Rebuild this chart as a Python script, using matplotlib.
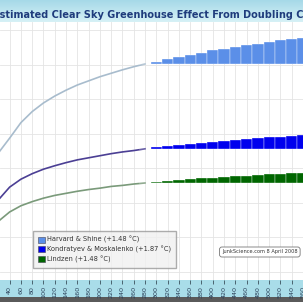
import numpy as np
import matplotlib
matplotlib.use("Agg")
import matplotlib.pyplot as plt
from matplotlib.patches import Rectangle, Patch

# CO2 concentration (ppm) categories
ppm = [20, 40, 60, 80, 100, 120, 140, 160, 180, 200, 220, 240, 260, 280,
       300, 320, 340, 360, 380, 400, 420, 440, 460, 480, 500, 520, 540, 560]

# warming curves (arbitrary deg C scale)
top_vals = [3.45, 3.88, 4.33, 4.65, 4.90, 5.10, 5.27, 5.42, 5.54, 5.66, 5.76, 5.86, 5.95, 6.03,
            6.10, 6.18, 6.24, 6.30, 6.36, 6.42, 6.47, 6.53, 6.58, 6.62, 6.67, 6.71, 6.75, 6.79]
mid_vals = [2.09, 2.46, 2.69, 2.85, 2.98, 3.08, 3.17, 3.25, 3.31, 3.37, 3.43, 3.48, 3.52, 3.57,
            3.61, 3.64, 3.68, 3.71, 3.74, 3.77, 3.79, 3.82, 3.85, 3.87, 3.90, 3.92, 3.94, 3.96]
low_vals = [1.47, 1.74, 1.92, 2.04, 2.14, 2.22, 2.28, 2.34, 2.39, 2.43, 2.48, 2.51, 2.55, 2.58,
            2.61, 2.64, 2.66, 2.69, 2.71, 2.73, 2.75, 2.77, 2.79, 2.81, 2.83, 2.85, 2.86, 2.88]

labels = ["Harvard & Shine (+1.48 °C)",
          "Kondratyev & Moskalenko (+1.87 °C)",
          "Lindzen (+1.48 °C)"]
title = "Estimated Clear Sky Greenhouse Effect From Doubling CO2"
note = "JunkScience.com 8 April 2008"

bar_cols = ["#5b8fe8", "#0000ee", "#006600"]
line_cols = ["#a8bccd", "#4b3f94", "#7a9a7a"]

W, H = 303, 302
fig = plt.figure(figsize=(W / 100, H / 100), dpi=100)
fig.patch.set_facecolor("white")

# title band with a soft gradient
tax = fig.add_axes([0, 1 - 22 / H, 1, 22 / H])
grad = np.linspace(0, 1, 50)[:, None]
cmap = matplotlib.colors.LinearSegmentedColormap.from_list("band", ["#a6d9e8", "#d6f1f6"])
tax.imshow(grad, aspect="auto", cmap=cmap, extent=[0, 1, 0, 1])
tax.set_axis_off()
fig.text(-0.022, 1 - 15 / H, title, fontsize=7.0, fontweight="bold",
         color="#1f3c7c", ha="left", va="center")

# tick label band + dark bottom strip (behind the axes)
fig.patches.append(Rectangle((0, 5 / H), 1, 17 / H, transform=fig.transFigure,
                             facecolor="#a9dde9", edgecolor="none", zorder=-5))
fig.patches.append(Rectangle((0, 0), 1, 5 / H, transform=fig.transFigure,
                             facecolor="#5a5a5a", edgecolor="none", zorder=-5))

ax = fig.add_axes([0, 22 / H, 1, 258 / H])
x = np.arange(len(ppm))
ax.set_xlim(0.145, 26.04)
ax.set_ylim(-0.232, 7.246)
ax.set_facecolor("white")
for s in ax.spines.values():
    s.set_visible(False)

# the 20 ppm tick sits just off the left edge, so label from 40 on
ax.set_xticks(x[1:])
ax.set_xticklabels([str(p) for p in ppm[1:]], rotation=90, fontsize=4.6,
                   color="#2b4058")
ax.tick_params(axis="x", length=3, width=0.7, color="#4a6470", pad=1.2)
ax.set_yticks(np.arange(0, 8))
ax.tick_params(axis="y", left=False, labelleft=False)
ax.grid(True, color="#e4e4e4", lw=0.6)
ax.set_axisbelow(True)

base = ppm.index(280)
for vals, bc, lc in zip([top_vals, mid_vals, low_vals], bar_cols, line_cols):
    ax.plot(x[:base + 1], vals[:base + 1], color=lc, lw=1.2, zorder=3,
            solid_joinstyle="round")
    heights = [v - vals[base] for v in vals[base:]]
    ax.bar(x[base:], heights, bottom=vals[base], width=1.0, color=bc,
           edgecolor="white", linewidth=0.25, zorder=3)

handles = [Patch(facecolor=c, edgecolor="#445", lw=0.4) for c in bar_cols]
fig.legend(handles, labels, loc="lower left", bbox_to_anchor=(0.109, 0.113),
           fontsize=4.8, frameon=True, facecolor="#f0f0f0", edgecolor="#999999",
           fancybox=False, handlelength=1.0, handleheight=1.0, handletextpad=0.3,
           labelspacing=0.35, borderpad=0.8, borderaxespad=0, labelcolor="#333333")

fig.text(222 / W, 1 - 252 / H, note, fontsize=3.6, color="#333333", ha="left", va="center",
         bbox=dict(boxstyle="round,pad=0.5", facecolor="white", edgecolor="#777777", lw=0.6))

fig.savefig("out.png", dpi=100)
